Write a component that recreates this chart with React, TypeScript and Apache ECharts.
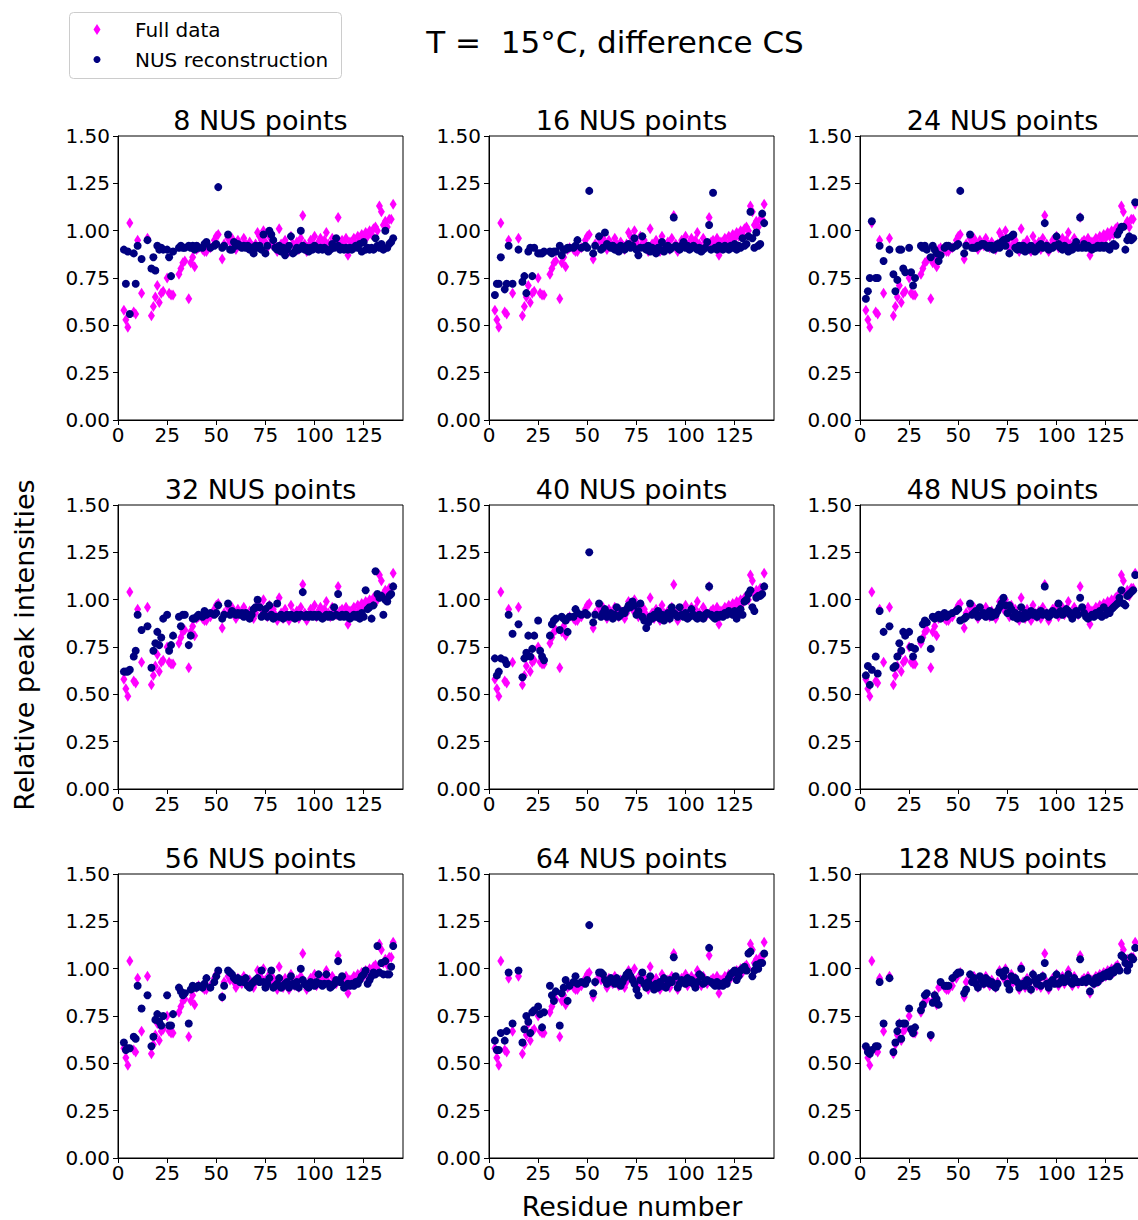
import React, { useEffect, useRef } from "react";
import * as echarts from "echarts";

const residues = [
  3, 4, 5, 6, 8, 9, 10, 12, 15, 17, 18, 19, 20, 21, 22, 23, 25, 26, 27, 28, 31, 32, 33, 34, 36, 37, 38, 39, 40, 41, 43, 44, 45, 47, 49, 50, 51, 53, 54,
  56, 57, 58, 59, 60, 61, 62, 63, 64, 65, 66, 67, 68, 69, 70, 71, 72, 73, 74, 75, 76, 77, 78, 79, 80, 81, 82, 83, 84, 85,
  86, 87, 88, 89, 90, 91, 92, 93, 94, 95, 96, 97, 98, 99, 100, 101, 102, 103, 104, 105, 106, 107, 108, 109, 110, 111, 112,
  113, 114, 115, 116, 117, 118, 119, 120, 121, 122, 123, 124, 125, 126, 127, 128, 129, 130, 131, 132, 133, 134, 135, 136,
  137, 138, 139, 140,
];

const fullData = [
  0.58, 0.53, 0.49, 1.04, 0.57, 0.56, 0.95, 0.67, 0.96, 0.55, 0.60, 0.65, 0.71, 0.62, 0.67, 0.68, 0.75, 0.67, 0.66, 0.66,
  0.77, 0.80, 0.83, 0.84, 0.64, 0.83, 0.86, 0.81, 0.90, 0.91, 0.90, 0.89, 0.89, 0.91, 0.95, 0.97, 0.98, 0.85, 0.93,
  0.96, 0.94, 0.96, 0.93, 0.90, 0.95, 0.93, 0.92, 0.96, 0.93,
  0.91, 0.94, 0.92, 0.90, 0.93, 0.99, 0.97, 0.95, 1.00, 0.94,
  0.91, 0.97, 0.93, 0.95, 0.92, 0.89, 1.01, 0.93, 0.90, 0.95,
  0.92, 0.89, 0.97, 0.93, 0.91, 0.94, 0.90, 0.96, 1.08, 0.93,
  0.89, 0.92, 0.95, 0.93, 0.97, 0.91, 0.94, 0.96, 0.92, 0.95,
  0.99, 0.93, 0.91, 0.96, 0.94, 0.92, 1.07, 0.94, 0.95, 0.93,
  0.96, 0.87, 0.94, 0.92, 0.96, 0.93, 0.97, 0.95, 0.98, 0.96,
  0.99, 0.97, 1.00, 0.98, 1.01, 1.02, 1.00, 1.13, 1.10, 1.03,
  1.05, 1.02, 1.06, 1.06, 1.14,
];

const nus8 = [
  0.90, 0.72, 0.89, 0.56, 0.88, 0.72, 0.92, 0.85, 0.95, 0.80, 0.86, 0.79, 0.92, 0.90, 0.91, 0.90, 0.90, 0.86, 0.76, 0.89,
  0.91, 0.92, 0.91, 0.91, 0.92, 0.91, 0.92, 0.90, 0.92, 0.91, 0.91, 0.93, 0.94, 0.91, 0.92, 0.93, 1.23, 0.91, 0.92,
  0.98, 0.90, 0.90, 0.94, 0.92, 0.93, 0.92, 0.91, 0.92, 0.91,
  0.92, 0.90, 0.91, 0.88, 0.92, 0.91, 0.92, 0.90, 0.98, 0.88,
  0.92, 1.00, 0.98, 0.95, 0.91, 0.90, 0.92, 0.89, 0.91, 0.87,
  0.90, 0.92, 0.97, 0.88, 0.89, 0.91, 0.90, 1.00, 0.92, 0.90,
  0.91, 0.89, 0.91, 0.90, 0.92, 0.91, 0.90, 0.91, 0.90, 0.91,
  0.90, 0.89, 0.90, 0.93, 0.91, 0.96, 0.92, 0.90, 0.91, 0.90,
  0.91, 0.90, 0.91, 0.90, 0.91, 0.92, 0.91, 0.93, 0.89, 0.94,
  0.90, 0.91, 0.90, 0.91, 0.90, 0.96, 0.92, 0.91, 0.93, 0.90,
  1.00, 0.91, 0.93, 0.94, 0.96,
];

const nus16 = [
  0.66, 0.72, 0.72, 0.86, 0.69, 0.72, 0.92, 0.72, 0.90, 0.73, 0.76, 0.67, 0.89, 0.91, 0.76, 0.91, 0.88, 0.88, 0.88, 0.89,
  0.89, 0.88, 0.89, 0.89, 0.92, 0.87, 0.90, 0.90, 0.91, 0.91, 0.91, 0.92, 0.95, 0.91, 0.92, 0.91, 1.21, 0.88, 0.92,
  0.97, 0.90, 0.91, 0.99, 0.93, 0.92, 0.91, 0.92, 0.90, 0.91,
  0.89, 0.92, 0.91, 0.90, 0.92, 0.93, 0.91, 0.92, 0.96, 0.90,
  0.87, 0.91, 0.97, 0.91, 0.90, 0.92, 0.89, 0.91, 0.90, 0.88,
  0.91, 0.90, 0.94, 0.89, 0.91, 0.92, 0.90, 0.91, 1.07, 0.92,
  0.91, 0.90, 0.92, 0.94, 0.91, 0.92, 0.90, 0.91, 0.92, 0.91,
  0.90, 0.91, 0.89, 0.90, 0.91, 0.94, 1.03, 0.90, 1.20, 0.91,
  0.90, 0.92, 0.91, 0.90, 0.92, 0.91, 0.90, 0.92, 0.91, 0.93,
  0.90, 0.92, 0.91, 0.96, 0.92, 0.93, 0.97, 1.10, 0.96, 0.91,
  0.99, 0.92, 0.93, 1.09, 1.04,
];

const nus24 = [
  0.64, 0.68, 0.75, 1.05, 0.75, 0.75, 0.92, 0.84, 0.90, 0.77, 0.68, 0.74, 0.90, 0.90, 0.80, 0.78, 0.91, 0.78, 0.71, 0.75,
  0.92, 0.91, 0.92, 0.90, 0.86, 0.92, 0.90, 0.88, 0.84, 0.87, 0.91, 0.92, 0.92, 0.91, 0.92, 0.93, 1.21, 0.88, 0.92,
  0.98, 0.91, 0.91, 0.91, 0.92, 0.92, 0.93, 0.93, 0.92, 0.91,
  0.92, 0.92, 0.90, 0.91, 0.93, 0.91, 0.94, 0.95, 0.92, 0.96,
  0.88, 0.97, 0.98, 0.91, 0.90, 0.92, 0.90, 0.92, 0.89, 0.91,
  0.90, 0.92, 0.91, 0.89, 0.90, 0.92, 0.93, 0.91, 1.04, 0.92,
  0.90, 0.91, 0.91, 0.92, 0.97, 0.93, 0.91, 0.90, 0.92, 0.91,
  0.89, 0.91, 0.90, 0.92, 0.94, 0.91, 1.07, 0.91, 0.93, 0.91,
  0.92, 0.91, 0.90, 0.91, 0.91, 0.92, 0.91, 0.92, 0.91, 0.92,
  0.91, 0.90, 0.92, 0.93, 0.92, 0.98, 1.00, 1.02, 1.02, 0.90,
  0.95, 0.97, 0.95, 0.96, 1.15,
];

const nus32 = [
  0.62, 0.62, 0.62, 0.63, 0.70, 0.73, 0.92, 0.84, 0.86, 0.64, 0.73, 0.77, 0.83, 0.76, 0.80, 0.90, 0.92, 0.73, 0.76, 0.81,
  0.91, 0.86, 0.92, 0.92, 0.76, 0.81, 0.90, 0.90, 0.91, 0.92, 0.91, 0.94, 0.92, 0.93, 0.92, 0.93, 0.97, 0.90, 0.92,
  0.98, 0.92, 0.94, 0.93, 0.92, 0.93, 0.92, 0.93, 0.91, 0.93,
  0.92, 0.90, 0.92, 0.95, 0.96, 1.00, 0.96, 0.91, 0.92, 0.95,
  0.91, 0.97, 0.92, 0.90, 0.91, 0.98, 0.91, 0.92, 0.90, 0.91,
  0.92, 0.91, 0.92, 0.91, 0.90, 0.92, 0.91, 0.92, 1.04, 0.91,
  0.92, 0.91, 0.92, 0.91, 0.92, 0.91, 0.92, 0.91, 0.90, 0.91,
  0.92, 0.91, 0.92, 0.91, 0.96, 0.92, 1.03, 0.91, 0.92, 0.91,
  0.92, 0.91, 0.90, 0.91, 0.92, 0.91, 0.92, 0.90, 0.93, 0.91,
  1.05, 0.95, 0.96, 0.90, 0.97, 1.15, 1.03, 1.01, 1.02, 0.92,
  1.00, 0.99, 1.02, 1.03, 1.07,
];

const nus40 = [
  0.69, 0.60, 0.62, 0.69, 0.68, 0.66, 0.92, 0.82, 0.87, 0.59, 0.69, 0.72, 0.81, 0.70, 0.74, 0.81, 0.89, 0.73, 0.70, 0.68,
  0.81, 0.87, 0.89, 0.90, 0.84, 0.91, 0.90, 0.89, 0.83, 0.91, 0.91, 0.95, 0.93, 0.92, 0.93, 0.92, 1.25, 0.88, 0.92,
  0.98, 0.91, 0.93, 0.95, 0.91, 0.92, 0.93, 0.90, 0.92, 0.96,
  0.91, 0.92, 0.94, 0.93, 0.95, 0.97, 0.96, 0.99, 0.97, 0.92,
  0.94, 0.98, 0.91, 0.89, 0.85, 0.88, 0.91, 0.90, 0.92, 0.91,
  0.94, 0.90, 0.92, 0.89, 0.91, 0.93, 0.90, 0.96, 0.93, 0.92,
  0.91, 0.96, 0.92, 0.91, 0.93, 0.90, 0.91, 0.95, 0.92, 0.91,
  0.90, 0.92, 0.91, 0.90, 0.92, 0.93, 1.07, 0.92, 0.91, 0.90,
  0.92, 0.91, 0.92, 0.91, 0.93, 0.92, 0.94, 0.93, 0.92, 0.94,
  0.90, 0.93, 0.95, 0.92, 0.99, 1.00, 1.03, 1.05, 0.96, 0.94,
  1.01, 1.02, 1.02, 1.03, 1.07,
];

const nus48 = [
  0.60, 0.65, 0.55, 0.63, 0.70, 0.61, 0.94, 0.83, 0.86, 0.64, 0.65, 0.70, 0.77, 0.73, 0.83, 0.81, 0.83, 0.75, 0.70, 0.74,
  0.79, 0.87, 0.89, 0.88, 0.74, 0.91, 0.90, 0.91, 0.92, 0.90, 0.93, 0.91, 0.92, 0.93, 0.94, 0.95, 0.89, 0.90, 0.91,
  0.98, 0.92, 0.93, 0.94, 0.91, 0.96, 0.92, 0.93, 0.91, 0.92,
  0.94, 0.91, 0.93, 0.92, 0.94, 0.96, 0.98, 1.01, 0.97, 0.93,
  0.97, 0.95, 0.91, 0.93, 0.90, 0.92, 0.96, 0.90, 0.93, 0.91,
  0.92, 0.94, 0.92, 0.93, 0.91, 0.93, 0.94, 0.92, 1.07, 0.93,
  0.91, 0.92, 0.94, 0.93, 0.92, 0.98, 0.94, 0.92, 0.93, 0.95,
  0.94, 0.92, 0.90, 0.93, 0.94, 0.92, 1.01, 0.96, 0.93, 0.91,
  0.90, 0.91, 0.92, 0.91, 0.93, 0.92, 0.94, 0.91, 0.96, 0.92,
  0.94, 0.93, 0.95, 0.96, 0.97, 0.98, 1.01, 1.05, 0.98, 0.97,
  1.02, 1.03, 1.04, 1.05, 1.13,
];

const nus56 = [
  0.61, 0.57, 0.58, 0.58, 0.64, 0.63, 0.91, 0.79, 0.86, 0.59, 0.64, 0.73, 0.76, 0.72, 0.70, 0.75, 0.86, 0.70, 0.70, 0.76,
  0.90, 0.88, 0.86, 0.87, 0.71, 0.89, 0.91, 0.90, 0.90, 0.91, 0.90, 0.92, 0.95, 0.90, 0.93, 0.96, 0.99, 0.85, 0.91,
  0.99, 0.98, 0.97, 0.95, 0.94, 0.95, 0.93, 0.94, 0.93, 0.95,
  0.91, 0.90, 0.92, 0.93, 0.94, 0.95, 0.93, 0.99, 0.93, 0.90,
  0.92, 0.95, 0.99, 0.90, 0.91, 0.92, 0.95, 0.90, 0.91, 0.92,
  0.93, 0.90, 0.96, 0.92, 0.91, 0.93, 0.90, 1.00, 0.94, 0.92,
  0.91, 0.90, 0.93, 0.92, 0.91, 0.93, 0.97, 0.92, 0.91, 0.92,
  0.97, 0.92, 0.90, 0.91, 0.92, 0.94, 1.04, 0.93, 0.96, 0.90,
  0.91, 0.92, 0.91, 0.92, 0.91, 0.93, 0.92, 0.94, 0.96, 0.97,
  0.99, 0.92, 0.94, 0.96, 0.98, 0.97, 1.12, 0.98, 1.03, 0.97,
  1.04, 0.97, 0.97, 1.01, 1.12,
];

const nus64 = [
  0.62, 0.57, 0.57, 0.66, 0.62, 0.67, 0.98, 0.71, 0.99, 0.61, 0.68, 0.75, 0.72, 0.66, 0.77, 0.78, 0.80, 0.76, 0.69, 0.77,
  0.91, 0.86, 0.83, 0.88, 0.70, 0.87, 0.90, 0.94, 0.83, 0.91, 0.93, 0.96, 0.92, 0.93, 0.92, 0.94, 1.23, 0.87, 0.93,
  0.98, 0.98, 0.97, 0.94, 0.92, 0.93, 0.95, 0.94, 0.92, 0.95,
  0.93, 0.91, 0.93, 0.95, 0.97, 0.98, 0.96, 0.94, 0.92, 0.89,
  0.86, 0.94, 0.98, 0.92, 0.90, 0.93, 0.96, 0.91, 0.89, 0.92,
  0.90, 0.93, 0.91, 0.95, 0.90, 0.92, 0.94, 0.93, 1.06, 0.96,
  0.90, 0.92, 0.94, 0.93, 0.92, 0.95, 0.93, 0.94, 0.92, 0.90,
  0.93, 0.97, 0.96, 0.92, 0.93, 0.94, 1.11, 0.93, 0.92, 0.91,
  0.93, 0.91, 0.92, 0.91, 0.93, 0.92, 0.95, 0.97, 0.98, 0.99,
  0.94, 0.96, 0.99, 1.00, 1.01, 0.99, 1.08, 1.09, 0.96, 0.99,
  1.02, 1.00, 1.03, 1.03, 1.08,
];

const nus128 = [
  0.59, 0.56, 0.55, 0.57, 0.59, 0.59, 0.93, 0.71, 0.95, 0.56, 0.61, 0.67, 0.71, 0.63, 0.71, 0.71, 0.79, 0.68, 0.66, 0.69,
  0.78, 0.81, 0.86, 0.87, 0.65, 0.82, 0.86, 0.84, 0.81, 0.93, 0.91, 0.91, 0.91, 0.95, 0.97, 0.98, 0.98, 0.87, 0.89,
  0.97, 0.93, 0.95, 0.92, 0.90, 0.96, 0.94, 0.92, 0.95, 0.94,
  0.92, 0.93, 0.91, 0.90, 0.92, 0.98, 0.98, 0.96, 0.99, 0.92,
  0.89, 0.96, 0.94, 0.95, 0.93, 0.90, 1.00, 0.92, 0.91, 0.94,
  0.93, 0.89, 0.97, 0.94, 0.92, 0.95, 0.91, 0.96, 1.03, 0.92,
  0.90, 0.93, 0.94, 0.92, 0.97, 0.92, 0.93, 0.95, 0.93, 0.94,
  0.97, 0.93, 0.92, 0.95, 0.93, 0.93, 1.05, 0.93, 0.94, 0.93,
  0.95, 0.88, 0.93, 0.92, 0.95, 0.93, 0.96, 0.95, 0.97, 0.96,
  0.98, 0.96, 0.99, 0.98, 1.00, 1.01, 0.99, 1.07, 1.06, 1.03,
  0.99, 1.02, 1.06, 1.05, 1.11,
];

const panelTitles = [
  "8 NUS points", "16 NUS points", "24 NUS points",
  "32 NUS points", "40 NUS points", "48 NUS points",
  "56 NUS points", "64 NUS points", "128 NUS points",
];
const nusSets = [nus8, nus16, nus24, nus32, nus40, nus48, nus56, nus64, nus128];
const xTicks = [0, 25, 50, 75, 100, 125];
const mainTitle = "T =  15°C, difference CS";
const xLabel = "Residue number";
const yLabel = "Relative peak intensities";
const legendNames = ["Full data", "NUS reconstruction"];

const FONT = "DejaVu Sans";
const MAGENTA = "#ff00ff";
const NAVY = "#000080";

export default function App() {
  const ref = useRef<HTMLDivElement>(null);

  useEffect(() => {
    document.body.style.margin = "0";
    document.body.style.overflow = "hidden";
    const chart = echarts.init(ref.current as HTMLDivElement, null, { renderer: "svg" });

    const colLeft = [118, 489, 860];
    const rowTop = [136, 505, 874];
    const W = 285;
    const H = 284;

    const grids: any[] = [];
    const xAxes: any[] = [];
    const yAxes: any[] = [];
    const series: any[] = [];
    const graphics: any[] = [];

    const pair = (vals: number[]) =>
      residues.slice(0, vals.length).map((x, j) => [x, vals[j]]);

    for (let i = 0; i < 9; i++) {
      const r = Math.floor(i / 3);
      const c = i % 3;
      grids.push({
        left: colLeft[c],
        top: rowTop[r],
        width: W,
        height: H,
        show: true,
        borderColor: "#000",
        borderWidth: 1,
        backgroundColor: "transparent",
      });
      xAxes.push({
        gridIndex: i,
        type: "value",
        min: 0,
        max: 145,
        interval: 25,
        axisLine: { show: true, onZero: false, lineStyle: { color: "#000", width: 1 } },
        axisTick: { show: true, length: 5, customValues: xTicks, lineStyle: { color: "#000" } },
        axisLabel: {
          show: true,
          customValues: xTicks,
          margin: 5,
          color: "#000",
          fontSize: 20,
          fontFamily: FONT,
          formatter: (v: number) => (xTicks.indexOf(v) >= 0 ? String(v) : ""),
        },
        splitLine: { show: false },
      });
      yAxes.push({
        gridIndex: i,
        type: "value",
        min: 0,
        max: 1.5,
        interval: 0.25,
        axisLine: { show: true, onZero: false, lineStyle: { color: "#000", width: 1 } },
        axisTick: { show: true, length: 5, lineStyle: { color: "#000" } },
        axisLabel: {
          show: true,
          margin: 8,
          color: "#000",
          fontSize: 20,
          fontFamily: FONT,
          formatter: (v: number) => v.toFixed(2),
        },
        splitLine: { show: false },
      });
      series.push({
        type: "scatter",
        name: legendNames[0],
        xAxisIndex: i,
        yAxisIndex: i,
        symbol: "diamond",
        symbolSize: [7, 11],
        itemStyle: { color: MAGENTA, opacity: 1 },
        data: pair(fullData),
        silent: true,
      });
      series.push({
        type: "scatter",
        name: legendNames[1],
        xAxisIndex: i,
        yAxisIndex: i,
        symbol: "circle",
        symbolSize: 8,
        itemStyle: { color: NAVY, opacity: 1 },
        data: pair(nusSets[i]),
        silent: true,
      });
      graphics.push({
        type: "text",
        x: colLeft[c] + W / 2,
        y: rowTop[r] - 16,
        style: {
          text: panelTitles[i],
          fill: "#000",
          font: `27px "${FONT}"`,
          textAlign: "center",
          textVerticalAlign: "middle",
        },
      });
    }

    // main title
    graphics.push({
      type: "text",
      x: 615,
      y: 42,
      style: {
        text: mainTitle,
        fill: "#000",
        font: `31px "${FONT}"`,
        textAlign: "center",
        textVerticalAlign: "middle",
      },
    });
    // axis labels
    graphics.push({
      type: "text",
      x: 632,
      y: 1206,
      style: {
        text: xLabel,
        fill: "#000",
        font: `27px "${FONT}"`,
        textAlign: "center",
        textVerticalAlign: "middle",
      },
    });
    graphics.push({
      type: "text",
      x: 24,
      y: 645,
      rotation: Math.PI / 2,
      style: {
        text: yLabel,
        fill: "#000",
        font: `27px "${FONT}"`,
        textAlign: "center",
        textVerticalAlign: "middle",
      },
    });
    // legend box
    graphics.push({
      type: "rect",
      shape: { x: 69.5, y: 12.5, width: 272, height: 66, r: 4 },
      style: { fill: "rgba(255,255,255,0.8)", stroke: "#cccccc", lineWidth: 1 },
    });
    graphics.push({
      type: "polygon",
      shape: { points: [[97, 24], [100.5, 29.5], [97, 35], [93.5, 29.5]] },
      style: { fill: MAGENTA },
    });
    graphics.push({
      type: "circle",
      shape: { cx: 97, cy: 59.5, r: 3.5 },
      style: { fill: NAVY },
    });
    graphics.push({
      type: "text",
      x: 135,
      y: 29.5,
      style: { text: legendNames[0], fill: "#000", font: `20px "${FONT}"`, textAlign: "left", textVerticalAlign: "middle" },
    });
    graphics.push({
      type: "text",
      x: 135,
      y: 59.5,
      style: { text: legendNames[1], fill: "#000", font: `20px "${FONT}"`, textAlign: "left", textVerticalAlign: "middle" },
    });

    chart.setOption({
      animation: false,
      backgroundColor: "#fff",
      textStyle: { fontFamily: FONT },
      grid: grids,
      xAxis: xAxes,
      yAxis: yAxes,
      series,
      graphic: graphics,
    });

    return () => {
      chart.dispose();
    };
  }, []);

  return (
    <div style={{ width: 1138, height: 1220, overflow: "hidden" }}>
      <div ref={ref} style={{ width: 1150, height: 1220 }} />
    </div>
  );
}
